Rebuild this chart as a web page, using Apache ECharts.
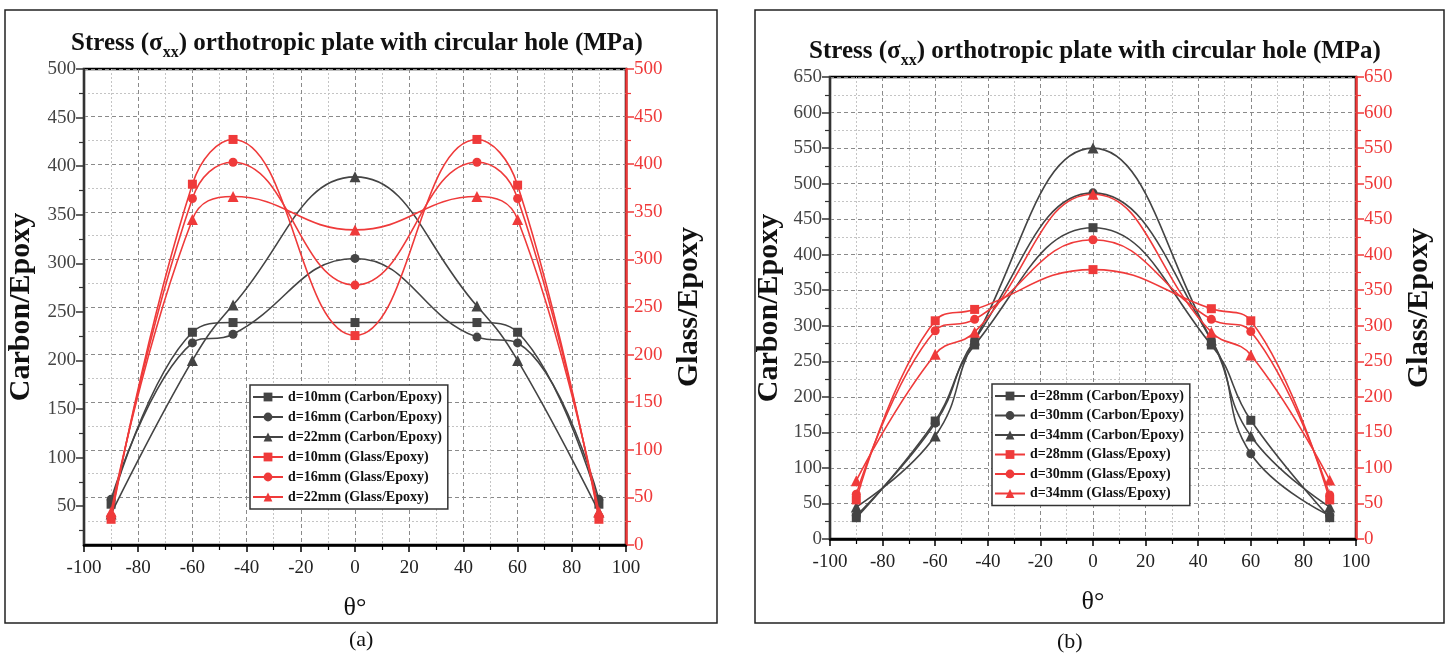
<!DOCTYPE html>
<html>
<head>
<meta charset="utf-8">
<script src="https://cdn.jsdelivr.net/npm/echarts@6/dist/echarts.min.js"></script>
<style>
  html, body { margin: 0; padding: 0; background: #fff; }
  #chart { width: 1448px; height: 659px; }
</style>
</head>
<body>
<div id="chart"></div>
<script>
// angles (deg) shared by both panels
const angles = [-90, -60, -45, 0, 45, 60, 90];

// panel (a) - carbon/epoxy on left axis, glass/epoxy on right axis
const carbonA10 = [52, 229, 239, 239, 239, 229, 52];
const carbonA16 = [57, 218, 227, 305, 224, 218, 57];
const carbonA22 = [42, 200, 257, 389, 256, 200, 44];
const glassA10 = [27, 379, 426, 220, 426, 378, 27];
const glassA16 = [30, 364, 402, 273, 402, 364, 30];
const glassA22 = [35, 342, 366, 331, 366, 342, 35];

// panel (b)
const carbonB28 = [30, 166, 273, 438, 273, 167, 30];
const carbonB30 = [33, 163, 280, 487, 280, 120, 33];
const carbonB34 = [45, 145, 280, 550, 280, 145, 45];
const glassB28 = [55, 307, 323, 379, 324, 307, 55];
const glassB30 = [63, 293, 309, 421, 309, 292, 62];
const glassB34 = [82, 260, 291, 485, 291, 259, 83];

// tick labels
const xTicks = [-100, -80, -60, -40, -20, 0, 20, 40, 60, 80, 100];
const leftTicksA = [50, 100, 150, 200, 250, 300, 350, 400, 450, 500];
const leftMinorA = [25, 75, 125, 175, 225, 275, 325, 375, 425, 475];

const SERIF = 'Liberation Serif';
const DARK = '#444444';
const RED = '#ef3a3a';

function pts(vals) {
  return angles.map((a, i) => [a, vals[i]]);
}

function lineSeries(name, vals, color, symbol, xi, yi) {
  return {
    name: name,
    type: 'line',
    xAxisIndex: xi,
    yAxisIndex: yi,
    data: pts(vals),
    smooth: 0.45,
    symbol: symbol,
    symbolSize: symbol === 'triangle' ? 11 : 9,
    lineStyle: { color: color, width: 1.6 },
    itemStyle: { color: color },
    z: color === RED ? 4 : 3
  };
}

function xAxisCfg(gi) {
  return {
    type: 'value',
    gridIndex: gi,
    min: -100,
    max: 100,
    interval: 20,
    name: 'θ°',
    nameLocation: 'middle',
    nameGap: 50,
    nameTextStyle: { fontFamily: SERIF, fontSize: 26, color: '#111' },
    axisLine: { onZero: false, lineStyle: { color: '#000', width: 2.5 } },
    axisTick: { inside: false, length: 7, lineStyle: { color: '#000', width: 1.5 } },
    minorTick: { show: true, splitNumber: 2, length: 5, lineStyle: { color: '#000', width: 1.2 } },
    axisLabel: {
      fontFamily: SERIF, fontSize: 19, color: '#222', margin: 14,
      customValues: xTicks
    },
    splitLine: { show: true, lineStyle: { color: '#8a8a8a', type: [4, 3], width: 1 } },
    minorSplitLine: { show: true, lineStyle: { color: '#c4c4c4', type: [2, 2], width: 1 } }
  };
}

function rightAxisCfg(gi, max, name) {
  return {
    type: 'value',
    gridIndex: gi,
    position: 'right',
    min: 0,
    max: max,
    interval: 50,
    name: name,
    nameLocation: 'middle',
    nameRotate: 90,
    nameGap: 48,
    nameTextStyle: { fontFamily: SERIF, fontSize: 30, fontWeight: 'bold', color: '#111' },
    axisLine: { show: true, onZero: false, lineStyle: { color: RED, width: 2.5 } },
    axisTick: { inside: false, length: 8, lineStyle: { color: RED, width: 1.5 } },
    minorTick: { show: true, splitNumber: 2, length: 5, lineStyle: { color: RED, width: 1.2 } },
    axisLabel: { fontFamily: SERIF, fontSize: 19, color: RED, margin: 8 },
    splitLine: { show: true, lineStyle: { color: '#8a8a8a', type: [4, 3], width: 1 } },
    minorSplitLine: { show: true, lineStyle: { color: '#c4c4c4', type: [2, 2], width: 1 } }
  };
}

function leftAxisCfg(gi, min, max, name, gap) {
  const ax = {
    type: 'value',
    gridIndex: gi,
    position: 'left',
    min: min,
    max: max,
    name: name,
    nameLocation: 'middle',
    nameRotate: 90,
    nameGap: gap,
    nameTextStyle: { fontFamily: SERIF, fontSize: 30, fontWeight: 'bold', color: '#111' },
    axisLine: { show: true, onZero: false, lineStyle: { color: '#333', width: 2 } },
    axisTick: { inside: false, length: 8, lineStyle: { color: '#333', width: 1.5 } },
    axisLabel: { fontFamily: SERIF, fontSize: 19, color: '#444', margin: 8 },
    splitLine: { show: false }
  };
  return ax;
}

const chart = echarts.init(document.getElementById('chart'));

const titleStyle = {
  fontFamily: SERIF, fontWeight: 'bold', fontSize: 25, color: '#111', lineHeight: 34,
  rich: {
    sub: { fontFamily: SERIF, fontWeight: 'bold', fontSize: 16, color: '#111', verticalAlign: 'bottom' }
  }
};
const titleText = 'Stress (σ{sub|xx}) orthotropic plate with circular hole (MPa)';

// left axis of panel (a) starts slightly above zero
const leftA = leftAxisCfg(0, 10, 500, 'Carbon/Epoxy', 48);
leftA.axisTick.customValues = leftTicksA;
leftA.axisLabel.customValues = leftTicksA;

const leftAMinor = {
  type: 'value', gridIndex: 0, position: 'left', min: 10, max: 500,
  axisLine: { show: false, onZero: false },
  axisTick: { show: true, inside: false, length: 5, customValues: leftMinorA, lineStyle: { color: '#333', width: 1.2 } },
  axisLabel: { show: false },
  splitLine: { show: false }
};

const leftB = leftAxisCfg(1, 0, 650, 'Carbon/Epoxy', 46);
leftB.interval = 50;
leftB.minorTick = { show: true, splitNumber: 2, length: 5, lineStyle: { color: '#333', width: 1.2 } };

const legendText = { fontFamily: SERIF, fontWeight: 'bold', fontSize: 14, color: '#111' };

chart.setOption({
  animation: false,
  backgroundColor: '#fff',
  title: [
    { text: titleText, left: 352, top: 22, textAlign: 'center', textStyle: titleStyle },
    { text: titleText, left: 1090, top: 30, textAlign: 'center', textStyle: titleStyle }
  ],
  grid: [
    { left: 84, right: 1448 - 626, top: 69, height: 476, show: true, borderColor: '#000', borderWidth: 2.5, backgroundColor: 'transparent' },
    { left: 830, right: 1448 - 1356, top: 77, height: 462, show: true, borderColor: '#000', borderWidth: 2.5, backgroundColor: 'transparent' }
  ],
  xAxis: [xAxisCfg(0), xAxisCfg(1)],
  yAxis: [
    leftA,
    rightAxisCfg(0, 500, 'Glass/Epoxy'),
    leftAMinor,
    leftB,
    rightAxisCfg(1, 650, 'Glass/Epoxy')
  ],
  legend: [
    {
      data: ['d=10mm (Carbon/Epoxy)', 'd=16mm (Carbon/Epoxy)', 'd=22mm (Carbon/Epoxy)',
             'd=10mm (Glass/Epoxy)', 'd=16mm (Glass/Epoxy)', 'd=22mm (Glass/Epoxy)'],
      orient: 'vertical', left: 250, top: 385,
      itemWidth: 30, itemHeight: 11, itemGap: 6,
      padding: [5, 6, 5, 2],
      borderColor: '#333', borderWidth: 1.5, backgroundColor: '#fff',
      textStyle: legendText
    },
    {
      data: ['d=28mm (Carbon/Epoxy)', 'd=30mm (Carbon/Epoxy)', 'd=34mm (Carbon/Epoxy)',
             'd=28mm (Glass/Epoxy)', 'd=30mm (Glass/Epoxy)', 'd=34mm (Glass/Epoxy)'],
      orient: 'vertical', left: 992, top: 384,
      itemWidth: 30, itemHeight: 11, itemGap: 5.5,
      padding: [5, 6, 5, 2],
      borderColor: '#333', borderWidth: 1.5, backgroundColor: '#fff',
      textStyle: legendText
    }
  ],
  series: [
    lineSeries('d=10mm (Carbon/Epoxy)', carbonA10, DARK, 'rect', 0, 0),
    lineSeries('d=16mm (Carbon/Epoxy)', carbonA16, DARK, 'circle', 0, 0),
    lineSeries('d=22mm (Carbon/Epoxy)', carbonA22, DARK, 'triangle', 0, 0),
    lineSeries('d=10mm (Glass/Epoxy)', glassA10, RED, 'rect', 0, 1),
    lineSeries('d=16mm (Glass/Epoxy)', glassA16, RED, 'circle', 0, 1),
    lineSeries('d=22mm (Glass/Epoxy)', glassA22, RED, 'triangle', 0, 1),
    lineSeries('d=28mm (Carbon/Epoxy)', carbonB28, DARK, 'rect', 1, 3),
    lineSeries('d=30mm (Carbon/Epoxy)', carbonB30, DARK, 'circle', 1, 3),
    lineSeries('d=34mm (Carbon/Epoxy)', carbonB34, DARK, 'triangle', 1, 3),
    lineSeries('d=28mm (Glass/Epoxy)', glassB28, RED, 'rect', 1, 4),
    lineSeries('d=30mm (Glass/Epoxy)', glassB30, RED, 'circle', 1, 4),
    lineSeries('d=34mm (Glass/Epoxy)', glassB34, RED, 'triangle', 1, 4)
  ],
  graphic: [
    { type: 'rect', shape: { x: 5, y: 10, width: 712, height: 613 }, style: { fill: 'none', stroke: '#222', lineWidth: 1.5 }, silent: true },
    { type: 'rect', shape: { x: 755, y: 10, width: 689, height: 613 }, style: { fill: 'none', stroke: '#222', lineWidth: 1.5 }, silent: true },
    { type: 'text', left: 349, top: 629, style: { text: '(a)', font: '22px "Liberation Serif"', fill: '#111' } },
    { type: 'text', left: 1057, top: 631, style: { text: '(b)', font: '22px "Liberation Serif"', fill: '#111' } }
  ]
});
</script>
</body>
</html>
